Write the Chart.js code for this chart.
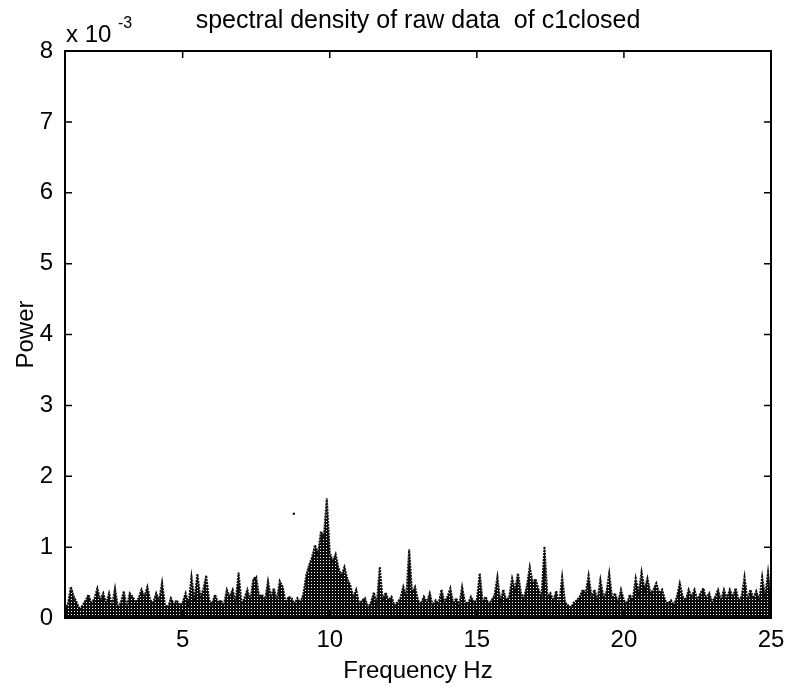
<!DOCTYPE html>
<html>
<head>
<meta charset="utf-8">
<script src="https://cdn.jsdelivr.net/npm/chart.js@4/dist/chart.umd.min.js"></script>
<style>
html,body{margin:0;padding:0;background:#fff;}
#wrap{position:relative;width:788px;height:690px;}
</style>
</head>
<body>
<div id="wrap"><canvas id="c" width="788" height="690"></canvas></div>
<script>
// ---- data (values in units of 1e-3) ----
const titleText = "spectral density of raw data  of c1closed";
const xLabel = "Frequency Hz";
const yLabel = "Power";
const freqStart = 1.0;   // Hz
const freqStep = 0.1;    // Hz
const power = [
  0.12,0.20,0.44,0.30,0.22,0.12,0.18,0.25,0.33,0.20,
  0.28,0.42,0.25,0.35,0.20,0.35,0.18,0.42,0.15,0.22,
  0.38,0.15,0.35,0.30,0.22,0.28,0.40,0.30,0.44,0.25,
  0.22,0.35,0.25,0.50,0.18,0.15,0.28,0.20,0.25,0.18,
  0.22,0.35,0.20,0.58,0.25,0.62,0.30,0.40,0.60,0.25,
  0.20,0.33,0.22,0.25,0.18,0.40,0.30,0.40,0.22,0.64,
  0.20,0.28,0.40,0.25,0.55,0.58,0.30,0.33,0.25,0.52,
  0.30,0.42,0.25,0.52,0.44,0.22,0.30,0.28,0.20,0.28,
  0.22,0.33,0.60,0.75,0.86,1.03,0.90,1.22,1.15,1.69,
  0.93,0.80,0.90,0.70,0.60,0.72,0.55,0.46,0.30,0.40,
  0.20,0.25,0.28,0.15,0.22,0.36,0.20,0.72,0.25,0.36,
  0.25,0.30,0.18,0.22,0.28,0.44,0.30,0.97,0.35,0.44,
  0.25,0.20,0.30,0.22,0.35,0.18,0.25,0.20,0.40,0.22,
  0.30,0.42,0.20,0.28,0.18,0.44,0.22,0.20,0.30,0.22,
  0.25,0.63,0.22,0.30,0.20,0.25,0.32,0.58,0.22,0.40,
  0.25,0.30,0.56,0.40,0.63,0.35,0.28,0.45,0.72,0.50,
  0.55,0.40,0.30,1.01,0.30,0.35,0.25,0.38,0.20,0.58,
  0.22,0.18,0.15,0.22,0.25,0.30,0.40,0.35,0.60,0.30,
  0.40,0.25,0.54,0.30,0.35,0.63,0.28,0.35,0.22,0.40,
  0.25,0.20,0.33,0.25,0.56,0.35,0.65,0.40,0.56,0.35,
  0.40,0.49,0.35,0.40,0.25,0.20,0.25,0.18,0.30,0.49,
  0.30,0.25,0.40,0.30,0.40,0.25,0.35,0.42,0.28,0.35,
  0.22,0.30,0.40,0.25,0.40,0.28,0.40,0.30,0.42,0.25,
  0.30,0.58,0.25,0.40,0.28,0.38,0.25,0.58,0.30,0.65,
  0.30
];
const strayPoint = [{x: 8.78, y: 1.47}];
const xTicks = [5, 10, 15, 20, 25];
const yTicks = [0, 1, 2, 3, 4, 5, 6, 7, 8];

const points = power.map((v, i) => ({x: freqStart + i * freqStep, y: v}));

// stipple pattern for the dense spectrum
function makePattern() {
  const p = document.createElement('canvas');
  p.width = 3; p.height = 3;
  const g = p.getContext('2d');
  g.fillStyle = '#0c0c0c';
  g.fillRect(0, 0, 3, 3);
  g.fillStyle = '#ffffff';
  g.fillRect(2, 2, 1, 1);
  return g.createPattern(p, 'repeat');
}
const ctxMain = document.getElementById('c').getContext('2d');
const pattern = makePattern();

const FONT = "'Liberation Sans', Arial, Helvetica, sans-serif";

const frame = {
  id: 'frame',
  afterDraw(chart) {
    const {ctx, chartArea: a, scales} = chart;
    ctx.save();
    ctx.strokeStyle = '#000';
    ctx.lineWidth = 2;
    ctx.strokeRect(a.left, a.top, a.right - a.left, a.bottom - a.top);
    ctx.lineWidth = 1.5;
    const tl = 7;
    xTicks.forEach(v => {
      const px = scales.x.getPixelForValue(v);
      ctx.beginPath();
      ctx.moveTo(px, a.bottom); ctx.lineTo(px, a.bottom - tl);
      ctx.moveTo(px, a.top); ctx.lineTo(px, a.top + tl);
      ctx.stroke();
    });
    yTicks.forEach(v => {
      const py = scales.y.getPixelForValue(v);
      ctx.beginPath();
      ctx.moveTo(a.left, py); ctx.lineTo(a.left + tl, py);
      ctx.moveTo(a.right, py); ctx.lineTo(a.right - tl, py);
      ctx.stroke();
    });
    // title
    ctx.fillStyle = '#000';
    ctx.font = '25px ' + FONT;
    ctx.textAlign = 'center';
    ctx.textBaseline = 'alphabetic';
    ctx.fillText(titleText, (a.left + a.right) / 2 + 0, 28);
    // exponent label
    ctx.textAlign = 'left';
    ctx.font = '24px ' + FONT;
    ctx.fillText('x 10', 66, 42);
    ctx.font = '16px ' + FONT;
    ctx.fillText('-3', 118, 28);
    ctx.restore();
  }
};

new Chart(ctxMain, {
  type: 'line',
  data: {
    datasets: [
      {
        data: points,
        borderColor: '#111',
        borderWidth: 2,
        borderDash: [2, 1],
        backgroundColor: pattern,
        fill: 'origin',
        pointRadius: 0,
        tension: 0
      },
      {
        data: strayPoint,
        showLine: false,
        pointRadius: 1.2,
        pointBackgroundColor: '#000',
        pointBorderWidth: 0
      }
    ]
  },
  options: {
    responsive: false,
    animation: false,
    events: [],
    layout: {padding: {top: 51, right: 17, left: 0, bottom: 0}},
    plugins: {legend: {display: false}, tooltip: {enabled: false}},
    scales: {
      x: {
        type: 'linear', min: 1, max: 25,
        grid: {display: false}, border: {display: false},
        afterBuildTicks: s => { s.ticks = xTicks.map(v => ({value: v})); },
        afterFit: s => { s.height = 72; },
        ticks: {color: '#000', padding: 0, font: {size: 24, family: FONT}, maxRotation: 0},
        title: {display: true, text: xLabel, color: '#000', font: {size: 24, family: FONT}, padding: {top: 0}}
      },
      y: {
        type: 'linear', min: 0, max: 8,
        grid: {display: false}, border: {display: false},
        afterBuildTicks: s => { s.ticks = yTicks.map(v => ({value: v})); },
        afterFit: s => { s.width = 65; },
        ticks: {color: '#000', padding: 4, font: {size: 24, family: FONT}},
        title: {display: true, text: yLabel, color: '#000', font: {size: 24, family: FONT}, padding: {top: 12, bottom: 4}}
      }
    }
  },
  plugins: [frame]
});
</script>
</body>
</html>
